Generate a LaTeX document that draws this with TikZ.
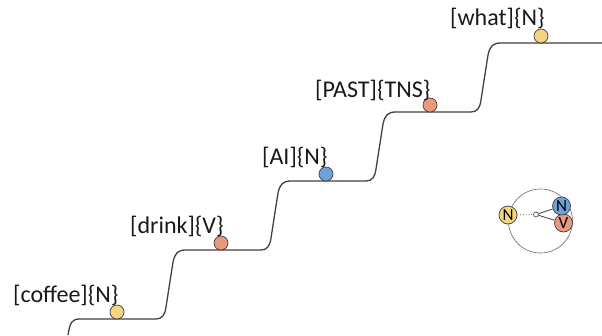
\documentclass[tikz,border=0pt]{standalone}
\usepackage{fontspec}
\setmainfont{Carlito}
\definecolor{cyel}{HTML}{F6D47F}
\definecolor{cora}{HTML}{E99A7C}
\definecolor{cblu}{HTML}{6CA3DA}
\definecolor{cline}{HTML}{404040}
\tikzset{
  stair/.style={draw=cline, line width=1.3pt},
  dot/.style={circle, draw=cline, line width=0.7pt, minimum size=14pt, inner sep=0pt},
  lab/.style={anchor=base west, inner sep=0pt, font=\fontsize{24}{27}\selectfont, text=black!90},
  leg/.style={circle, draw=cline, line width=0.7pt, minimum size=18pt, inner sep=0pt, font=\fontsize{17}{19}\selectfont},
}
\begin{document}
\begin{tikzpicture}[x=1pt,y=-1pt]
\useasboundingbox (0,0) rectangle (602,335);
\draw[stair] (68,335) .. controls (70,322) and (72,319) .. (80,319)
  -- (156,319) .. controls (162,319) and (165,315) .. (166,307) -- (173,262) .. controls (175,253) and (178,250) .. (186,250)
  -- (261,250) .. controls (267,250) and (270,246) .. (271,238) -- (278,193) .. controls (280,184) and (283,181) .. (291,181)
  -- (366,181) .. controls (372,181) and (375,177) .. (376,169) -- (383,124) .. controls (385,115) and (388,112) .. (396,112)
  -- (471,112) .. controls (477,112) and (480,108) .. (481,100) -- (488,55) .. controls (490,46) and (493,43) .. (501,43) -- (602,43);
\node[dot, fill=cyel] (c1) at (117,312) {};
\node[dot, fill=cora] (c2) at (221,243) {};
\node[dot, fill=cblu] (c3) at (326,174) {};
\node[dot, fill=cora] (c4) at (430,105) {};
\node[dot, fill=cyel] (c5) at (541,36) {};
\node[lab] (t1) at (13,302) {[coffee]\{N\}};
\node[lab] (t2) at (130,233) {[drink]\{V\}};
\node[lab] (t3) at (262,164) {[AI]\{N\}};
\node[lab] (t4) at (315,97) {[PAST]\{TNS\}};
\node[lab] (t5) at (450,25) {[what]\{N\}};
% legend
\node[circle, draw=black!60, line width=0.6pt, minimum size=64pt, inner sep=0pt] (big) at (540.5,221) {};
\node[circle, draw=cline, fill=white, line width=0.6pt, minimum size=5pt, inner sep=0pt] (hub) at (536,214.5) {};
\node[leg, fill=cora] (lv) at (563.5,223) {V};
\node[leg, fill=cblu] (ln) at (561.5,206) {N};
\node[leg, fill=cyel] (ly) at (508,215) {N};
\draw[cline, line width=0.8pt, dotted] (ly) -- (hub);
\draw[cline, line width=0.8pt] (hub) -- (ln);
\draw[cline, line width=0.8pt] (hub) -- (lv);
\end{tikzpicture}
\end{document}
